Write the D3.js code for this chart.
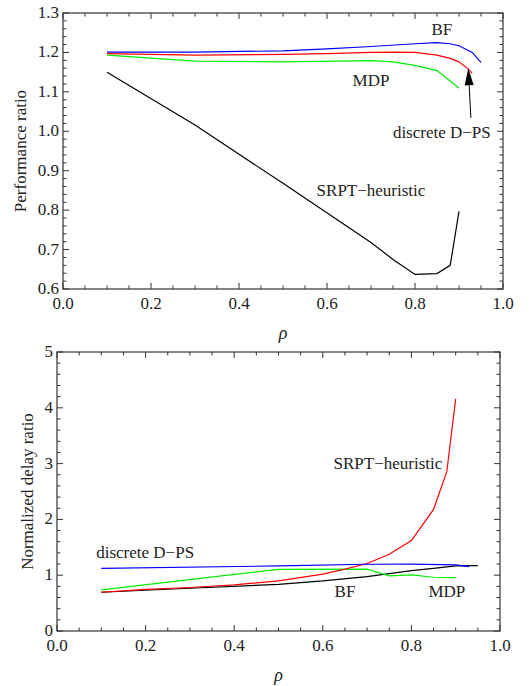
<!DOCTYPE html>
<html>
<head>
<meta charset="utf-8">
<script src="https://cdn.jsdelivr.net/npm/d3@7"></script>
<style>
  body { margin: 0; background: #fff; }
</style>
</head>
<body>
<div class="chart"></div>
<script>
// ---- data ----
// top panel: performance ratio vs rho
var perfBF_x   = [0.1, 0.3, 0.5, 0.6, 0.7, 0.8, 0.85, 0.88, 0.9, 0.93, 0.95];
var perfBF_y   = [1.201, 1.201, 1.204, 1.209, 1.215, 1.222, 1.225, 1.222, 1.217, 1.200, 1.175];
var perfDPS_x  = [0.1, 0.3, 0.5, 0.6, 0.7, 0.75, 0.8, 0.85, 0.88, 0.9, 0.92, 0.93];
var perfDPS_y  = [1.197, 1.193, 1.195, 1.197, 1.200, 1.201, 1.200, 1.193, 1.185, 1.176, 1.159, 1.147];
var perfMDP_x  = [0.1, 0.3, 0.5, 0.7, 0.75, 0.8, 0.85, 0.9];
var perfMDP_y  = [1.193, 1.178, 1.176, 1.179, 1.176, 1.167, 1.154, 1.109];
var perfSRPT_x = [0.1, 0.3, 0.5, 0.7, 0.75, 0.8, 0.85, 0.88, 0.9];
var perfSRPT_y = [1.150, 1.016, 0.868, 0.718, 0.675, 0.637, 0.639, 0.660, 0.797];

// bottom panel: normalized delay ratio vs rho
var delayDPS_x  = [0.1, 0.5, 0.7, 0.8, 0.9, 0.93];
var delayDPS_y  = [1.124, 1.166, 1.196, 1.200, 1.184, 1.154];
var delayBF_x   = [0.1, 0.3, 0.5, 0.6, 0.7, 0.8, 0.85, 0.9, 0.95];
var delayBF_y   = [0.694, 0.766, 0.837, 0.897, 0.975, 1.083, 1.124, 1.166, 1.172];
var delaySRPT_x = [0.1, 0.2, 0.3, 0.4, 0.5, 0.6, 0.65, 0.7, 0.75, 0.8, 0.85, 0.88, 0.9];
var delaySRPT_y = [0.694, 0.745, 0.780, 0.825, 0.900, 1.020, 1.110, 1.210, 1.375, 1.620, 2.180, 2.860, 4.160];
var delayMDP_x  = [0.1, 0.5, 0.7, 0.75, 0.8, 0.85, 0.9];
var delayMDP_y  = [0.736, 1.106, 1.110, 0.987, 1.005, 0.963, 0.957];

var xTicks = [0, 0.2, 0.4, 0.6, 0.8, 1.0];
var perfTicks = [0.6, 0.7, 0.8, 0.9, 1.0, 1.1, 1.2, 1.3];
var delayTicks = [0, 1, 2, 3, 4, 5];

var SERIF = "'Liberation Serif', 'Times New Roman', Times, serif";

function zip(xs, ys) { return xs.map(function(x, i) { return {x: x, y: ys[i]}; }); }

var svg = d3.select(".chart").append("svg")
    .attr("width", 532).attr("height", 686)
    .style("font-family", SERIF);

function panel(opts) {
    var g = svg.append("g");
    var x = d3.scaleLinear().domain([0, 1]).range([opts.left, opts.right]);
    var y = d3.scaleLinear().domain(opts.yDomain).range([opts.bottom, opts.top]);

    // minor + major ticks, inward, on all four sides
    var xMinor = d3.range(0, 1.0001, 0.05);
    var yMinor = d3.range(opts.yDomain[0], opts.yDomain[1] + 1e-6, opts.yMinorStep);
    function isMajor(v, list) { return list.some(function(t) { return Math.abs(t - v) < 1e-6; }); }

    var tk = g.append("g").attr("stroke", "#333").attr("stroke-width", 1);
    xMinor.forEach(function(v) {
        var len = isMajor(v, xTicks) ? 6 : 3.5;
        tk.append("line").attr("x1", x(v)).attr("x2", x(v)).attr("y1", opts.bottom).attr("y2", opts.bottom - len);
        tk.append("line").attr("x1", x(v)).attr("x2", x(v)).attr("y1", opts.top).attr("y2", opts.top + len);
    });
    yMinor.forEach(function(v) {
        var len = isMajor(v, opts.yTicks) ? 6 : 3.5;
        tk.append("line").attr("y1", y(v)).attr("y2", y(v)).attr("x1", opts.left).attr("x2", opts.left + len);
        tk.append("line").attr("y1", y(v)).attr("y2", y(v)).attr("x1", opts.right).attr("x2", opts.right - len);
    });

    // frame
    g.append("rect")
        .attr("x", opts.left).attr("y", opts.top)
        .attr("width", opts.right - opts.left).attr("height", opts.bottom - opts.top)
        .attr("fill", "none").attr("stroke", "#333").attr("stroke-width", 1.2);

    // tick labels
    g.selectAll(".xl").data(xTicks).enter().append("text")
        .attr("x", function(d) { return x(d); })
        .attr("y", opts.bottom + 20)
        .attr("text-anchor", "middle")
        .attr("fill", "#222")
        .style("font-size", "17px")
        .text(function(d) { return d3.format(".1f")(d); });
    g.selectAll(".yl").data(opts.yTicks).enter().append("text")
        .attr("x", opts.left - 4)
        .attr("y", function(d) { return y(d) + 5; })
        .attr("text-anchor", "end")
        .attr("fill", "#222")
        .style("font-size", "17px")
        .text(function(d) { return opts.yFormat(d); });

    // axis titles
    g.append("text")
        .attr("x", (opts.left + opts.right) / 2)
        .attr("y", opts.bottom + 50)
        .attr("text-anchor", "middle")
        .attr("fill", "#222")
        .style("font-size", "18px").style("font-style", "italic")
        .text("ρ");
    g.append("text")
        .attr("transform", "translate(" + opts.yTitleX + "," + (opts.top + opts.bottom) / 2 + ") rotate(-90)")
        .attr("text-anchor", "middle")
        .attr("dominant-baseline", "central")
        .attr("fill", "#222")
        .style("font-size", "17px")
        .text(opts.yTitle);

    // lines
    var line = d3.line().x(function(d) { return x(d.x); }).y(function(d) { return y(d.y); });
    opts.series.forEach(function(s) {
        g.append("path")
            .attr("d", line(s.data))
            .attr("fill", "none")
            .attr("stroke", s.color)
            .attr("stroke-width", 1.2);
    });

    // in-plot labels
    opts.labels.forEach(function(l) {
        g.append("text")
            .attr("x", x(l.x)).attr("y", y(l.y))
            .attr("text-anchor", "middle")
            .attr("dominant-baseline", "central")
            .attr("fill", "#222")
            .style("font-size", "17px")
            .text(l.text);
    });

    if (opts.arrow) {
        var a = opts.arrow;
        var tx = x(a.to[0]), ty = y(a.to[1]), fx = x(a.from[0]), fy = y(a.from[1]);
        var ang = Math.atan2(ty - fy, tx - fx);
        var hl = 17, hw = 4.5;
        var bx = tx - hl * Math.cos(ang), by = ty - hl * Math.sin(ang);
        g.append("line")
            .attr("x1", fx).attr("y1", fy).attr("x2", bx).attr("y2", by)
            .attr("stroke", "#000").attr("stroke-width", 1);
        g.append("path")
            .attr("d", "M" + tx + "," + ty +
                "L" + (bx + hw * Math.sin(ang)) + "," + (by - hw * Math.cos(ang)) +
                "L" + (bx - hw * Math.sin(ang)) + "," + (by + hw * Math.cos(ang)) + "Z")
            .attr("fill", "#000");
    }
}

panel({
    left: 63, right: 503, top: 13, bottom: 289,
    yDomain: [0.6, 1.3], yTicks: perfTicks, yMinorStep: 0.02,
    yFormat: d3.format(".1f"),
    yTitle: "Performance ratio", yTitleX: 20,
    series: [
        {data: zip(perfSRPT_x, perfSRPT_y), color: "#000"},
        {data: zip(perfMDP_x, perfMDP_y), color: "#00ee00"},
        {data: zip(perfDPS_x, perfDPS_y), color: "#ff0000"},
        {data: zip(perfBF_x, perfBF_y), color: "#0000ff"}
    ],
    labels: [
        {text: "BF", x: 0.861, y: 1.259},
        {text: "MDP", x: 0.700, y: 1.130},
        {text: "discrete D\u2212PS", x: 0.861, y: 0.998},
        {text: "SRPT\u2212heuristic", x: 0.700, y: 0.849}
    ],
    arrow: {from: [0.927, 1.034], to: [0.921, 1.160]}
});

panel({
    left: 57, right: 500, top: 352, bottom: 631,
    yDomain: [0, 5], yTicks: delayTicks, yMinorStep: 0.2,
    yFormat: d3.format("d"),
    yTitle: "Normalized delay ratio", yTitleX: 27,
    series: [
        {data: zip(delayBF_x, delayBF_y), color: "#000"},
        {data: zip(delayMDP_x, delayMDP_y), color: "#00ee00"},
        {data: zip(delaySRPT_x, delaySRPT_y), color: "#ff0000"},
        {data: zip(delayDPS_x, delayDPS_y), color: "#0000ff"}
    ],
    labels: [
        {text: "SRPT\u2212heuristic", x: 0.747, y: 3.01},
        {text: "discrete D\u2212PS", x: 0.199, y: 1.40},
        {text: "BF", x: 0.65, y: 0.70},
        {text: "MDP", x: 0.88, y: 0.70}
    ]
});
</script>
</body>
</html>
